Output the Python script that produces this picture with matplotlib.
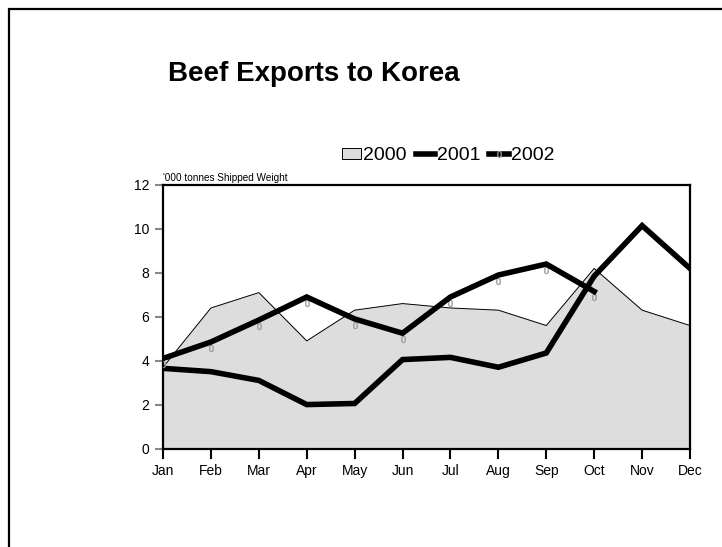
import matplotlib
matplotlib.use("Agg")
import matplotlib.pyplot as plt
import matplotlib.transforms as mtransforms
from matplotlib.lines import Line2D
from matplotlib.patches import Patch, Rectangle

plt.rcParams['font.family'] = ['Liberation Sans', 'DejaVu Sans']

months = ["Jan", "Feb", "Mar", "Apr", "May", "Jun",
          "Jul", "Aug", "Sep", "Oct", "Nov", "Dec"]
# '000 tonnes shipped weight
exports_2000 = [3.7, 6.4, 7.1, 4.9, 6.3, 6.6, 6.4, 6.3, 5.6, 8.2, 6.3, 5.6]
exports_2001 = [3.65, 3.5, 3.1, 2.0, 2.05, 4.05, 4.15, 3.7, 4.35, 7.85, 10.15, 8.2]
exports_2002 = [4.1, 4.85, 5.85, 6.9, 5.9, 5.25, 6.9, 7.9, 8.4, 7.15]

fig = plt.figure(figsize=(7.22, 5.47), dpi=100)
ax = fig.add_axes([163 / 722, 98.5 / 547, 527 / 722, 263.5 / 547])

x = list(range(len(months)))
x02 = x[:len(exports_2002)]

ax.fill_between(x, exports_2000, 0, color="#dddddd", zorder=1)
ax.plot(x, exports_2000, color="black", lw=0.7, zorder=2)
ax.plot(x, exports_2001, color="black", lw=4.0, solid_joinstyle="miter", zorder=3)
ax.plot(x02, exports_2002, color="black", lw=4.0, solid_joinstyle="miter", zorder=4)

# small grey "0" point markers sitting just under the 2002 line
below = mtransforms.offset_copy(ax.transData, fig=fig, y=-6, units="dots")
ax.plot(x02, exports_2002, ls="none", marker="$0$", ms=5, color="#999999",
        mew=0.3, transform=below, zorder=3.5)

ax.set_xlim(0, 11)
ax.set_ylim(0, 12)
ax.set_xticks(x)
ax.set_xticklabels(months)
ax.set_yticks(range(0, 13, 2))
ax.tick_params(direction="out", length=6, width=1.5, labelsize=10, pad=4)
ax.tick_params(axis="y", colors="#888888", labelcolor="black")
ax.tick_params(axis="x", color="black", length=7)
for s in ax.spines.values():
    s.set_linewidth(1.6)

ax.text(0, 1.006, "'000 tonnes Shipped Weight", transform=ax.transAxes,
        fontsize=7.2, ha="left", va="bottom")

fig.text(168 / 722, 1 - 74 / 547, "Beef Exports to Korea", fontsize=20,
         fontweight="bold", ha="left", va="center")

handles = [
    Patch(facecolor="#dddddd", edgecolor="black", linewidth=0.7),
    Line2D([], [], color="black", lw=4),
    Line2D([], [], color="black", lw=4, marker="$0$", ms=5,
           markeredgecolor="#999999", markerfacecolor="#999999", mew=0.3),
]
fig.legend(handles, ["2000", "2001", "2002"], loc="center",
           bbox_to_anchor=(448 / 722, 1 - 156 / 547), ncol=3, frameon=False,
           fontsize=14, handlelength=1.0, handleheight=0.55, handletextpad=0.1,
           columnspacing=0.45, borderpad=0)

# outer frame, running off the right and bottom edges
fig.patches.append(Rectangle((9 / 722, -0.1), 1.2, 1 - 9 / 547 + 0.1,
                             transform=fig.transFigure, fill=False,
                             edgecolor="black", linewidth=1.6))

fig.savefig("out.png", dpi=100)
